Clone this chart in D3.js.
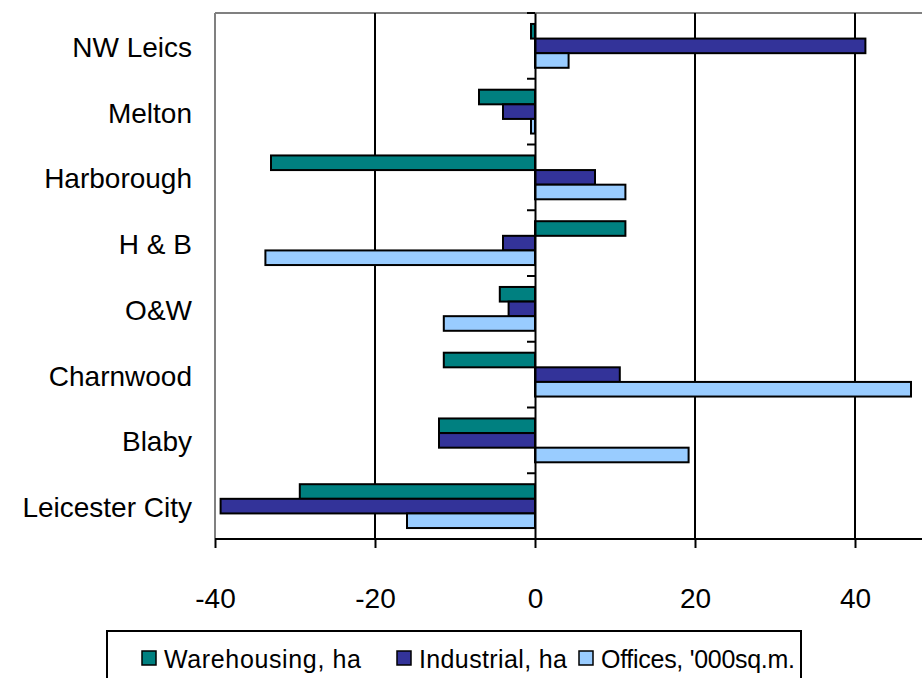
<!DOCTYPE html>
<html>
<head>
<meta charset="utf-8">
<script src="https://cdn.jsdelivr.net/npm/d3@7"></script>
<style>
  html, body { margin: 0; padding: 0; background: #fff; }
  svg { display: block; font-family: "Liberation Sans", Arial, sans-serif; }
</style>
</head>
<body>
<svg id="chart" width="922" height="678"></svg>
<script>
const categories = ["NW Leics", "Melton", "Harborough", "H & B", "O&W", "Charnwood", "Blaby", "Leicester City"];
const warehousing = [-0.5, -7.0, -33.0, 11.3, -4.4, -11.4, -12.0, -29.4];
const industrial  = [41.3, -4.0, 7.5, -4.0, -3.3, 10.6, -12.0, -39.3];
const offices     = [4.2, -0.5, 11.3, -33.7, -11.4, 47.0, 19.2, -16.0];
const seriesNames = ["Warehousing, ha", "Industrial, ha", "Offices, '000sq.m."];
const xTicks = [-40, -20, 0, 20, 40];

const seriesColors = ["#008080", "#333399", "#99CCFF"];
const seriesData = [warehousing, industrial, offices];

const svg = d3.select("#chart");
const plotLeft = 215, plotTop = 13, plotBottom = 539;

const x = d3.scaleLinear().domain([-40, 60]).range([plotLeft, 1015]);
const y = d3.scaleBand().domain(categories).range([plotTop, plotBottom]).paddingInner(0).paddingOuter(0);
const bandH = y.bandwidth();
const barH = bandH / 4.5;
const groupOffset = barH * 0.75;

// plot border (gray) top & left
svg.append("line").attr("x1", plotLeft).attr("x2", 922).attr("y1", plotTop).attr("y2", plotTop)
  .attr("stroke", "#808080").attr("stroke-width", 2);
svg.append("line").attr("x1", plotLeft).attr("x2", plotLeft).attr("y1", plotTop).attr("y2", plotBottom)
  .attr("stroke", "#808080").attr("stroke-width", 2);

// vertical gridlines
svg.append("g").selectAll("line").data(xTicks.filter(d => d !== -40 && d !== 0)).join("line")
  .attr("x1", d => x(d)).attr("x2", d => x(d)).attr("y1", plotTop).attr("y2", plotBottom)
  .attr("stroke", "#000").attr("stroke-width", 2);

// bars
const flat = [];
categories.forEach((c, i) => {
  seriesData.forEach((s, j) => flat.push({ c, j, v: s[i] }));
});
svg.append("g").selectAll("rect").data(flat).join("rect")
  .attr("x", d => Math.min(x(0), x(d.v)))
  .attr("width", d => Math.abs(x(d.v) - x(0)))
  .attr("y", d => y(d.c) + groupOffset + d.j * barH)
  .attr("height", barH)
  .attr("fill", d => seriesColors[d.j])
  .attr("stroke", "#000").attr("stroke-width", 2);

// bottom axis
const xAxis = d3.axisBottom(x).tickValues(xTicks).tickSize(9).tickFormat(d3.format("d"));
const gx = svg.append("g").attr("transform", `translate(0,${plotBottom})`).call(xAxis);
gx.select(".domain").attr("d", `M${plotLeft},0H922`).attr("stroke", "#000").attr("stroke-width", 2);
gx.selectAll(".tick line").attr("stroke", "#000").attr("stroke-width", 2);
gx.selectAll(".tick text").attr("y", 0).attr("dy", "2.45em").attr("font-size", 28)
  .attr("fill", "#000").attr("font-family", "Liberation Sans, Arial, sans-serif")
  .text(d => d < 0 ? "-" + Math.abs(d) : d);

// zero category axis
const yAxis = d3.axisLeft(y).tickSize(0).tickFormat("");
const gy = svg.append("g").attr("transform", `translate(${x(0)},0)`).call(yAxis);
gy.select(".domain").attr("stroke", "#000").attr("stroke-width", 2);
const boundaries = categories.map(c => y(c)).concat([plotBottom]);
gy.selectAll(".btick").data(boundaries).join("line").attr("class", "btick")
  .attr("x1", -8).attr("x2", 0).attr("y1", d => d).attr("y2", d => d)
  .attr("stroke", "#000").attr("stroke-width", 2);

// category labels
svg.append("g").selectAll("text").data(categories).join("text")
  .attr("x", 192).attr("y", d => y(d) + bandH / 2 + 11)
  .attr("text-anchor", "end").attr("font-size", 28).attr("fill", "#000")
  .text(d => d);

// legend
const lg = svg.append("g");
lg.append("rect").attr("x", 107).attr("y", 631).attr("width", 694).attr("height", 60)
  .attr("fill", "#fff").attr("stroke", "#000").attr("stroke-width", 2);
const legendX = [142, 397, 579];
const legendW = [197, 148, 194];
seriesNames.forEach((n, i) => {
  lg.append("rect").attr("x", legendX[i]).attr("y", 651).attr("width", 14).attr("height", 14)
    .attr("fill", seriesColors[i]).attr("stroke", "#000").attr("stroke-width", 1.5);
  lg.append("text").attr("x", legendX[i] + 22).attr("y", 668).attr("font-size", 25)
    .attr("textLength", legendW[i]).attr("lengthAdjust", "spacing")
    .attr("fill", "#000").text(n);
});
</script>
</body>
</html>
